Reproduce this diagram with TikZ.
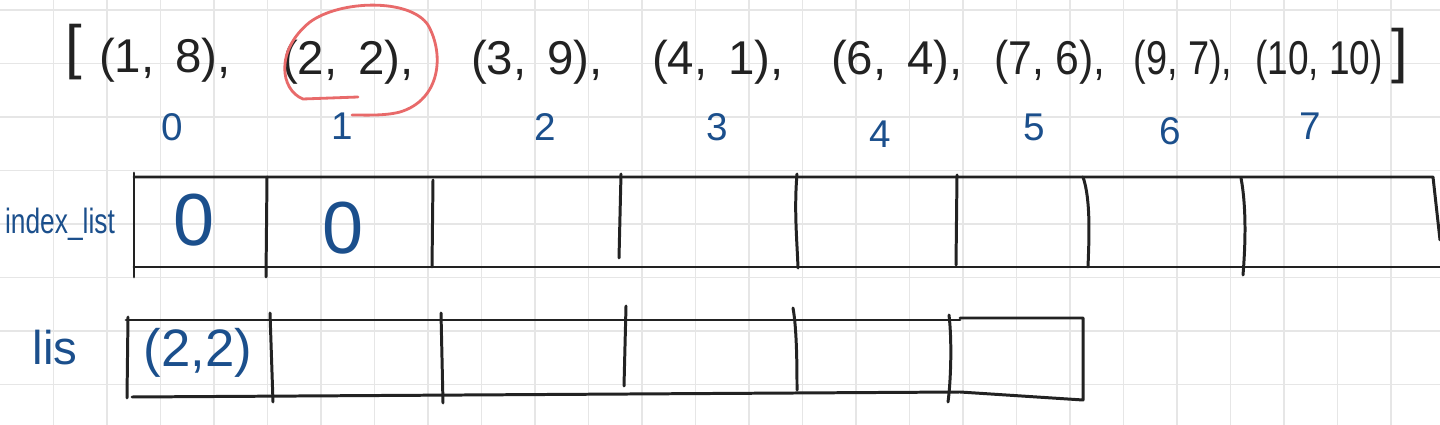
\documentclass[tikz,border=0pt]{standalone}
\usepackage{fontspec}
\setmainfont{Liberation Sans}
\usepackage{xcolor}
\usepackage{graphicx}
\usetikzlibrary{positioning,calc}

\definecolor{inkblack}{HTML}{222222}
\definecolor{inkblue}{HTML}{1B4F8C}
\definecolor{inkred}{HTML}{E86A6A}
\definecolor{paperline}{HTML}{E6E6E6}

\tikzset{
    gridline/.style={line width=1.1pt, draw=paperline},
    ink/.style={line width=1.7pt, draw=inkblack, line cap=round, line join=round},
    listtext/.style={text=inkblack, font=\fontsize{27}{30}\selectfont, inner sep=0pt},
    idxtext/.style={text=inkblue, font=\fontsize{22}{24}\selectfont, inner sep=0pt},
    celltext/.style={text=inkblue, inner sep=0pt}
}
\newcommand{\squeeze}[2]{\scalebox{#1}[1]{#2}}

\begin{document}
\begin{tikzpicture}[x=0.02cm, y=-0.02cm]
    \useasboundingbox (0,0) rectangle (1440,425);
    \fill[white] (0,0) rectangle (1440,425);

    % Grid paper
    \foreach \k in {1,...,26} \draw[gridline] (\k*53.5,0) -- (\k*53.5,425);
    \foreach \k in {0,...,7} \draw[gridline] (0,10+\k*53.5) -- (1440,10+\k*53.5);

    % The sorted list of pairs
    \node[listtext, font=\fontsize{34}{36}\selectfont] (lb) at (74,52) {[};
    \node[listtext] (p0) at (165,60) {(1,\, 8),};
    \node[listtext] (p1) at (348,62) {(2,\, 2),};
    \node[listtext] (p2) at (537,62) {(3,\, 9),};
    \node[listtext] (p3) at (718,62) {(4,\, 1),};
    \node[listtext] (p4) at (897,62) {(6,\, 4),};
    \node[listtext] (p5) at (1050,62) {\squeeze{0.9}{(7, 6),}};
    \node[listtext] (p6) at (1183,62) {\squeeze{0.8}{(9, 7),}};
    \node[listtext] (p7) at (1319,62) {\squeeze{0.78}{(10, 10)}};
    \node[listtext, font=\fontsize{34}{36}\selectfont] (rb) at (1400,56) {]};

    % Red loop round (2, 2)
    \draw[line width=1.6pt, inkred, line cap=round]
        (358,97) -- (303,99) .. controls (280,90) and (275,50) .. (310,22)
        .. controls (340,0) and (410,-2) .. (428,25)
        .. controls (445,55) and (440,100) .. (400,112)
        .. controls (385,116) and (365,115) .. (352,115);

    % Indices
    \node[idxtext] (i0) at (172,127) {0};
    \node[idxtext] (i1) at (342,126) {1};
    \node[idxtext] (i2) at (545,127) {2};
    \node[idxtext] (i3) at (717,127) {3};
    \node[idxtext] (i4) at (880,134) {4};
    \node[idxtext] (i5) at (1034,127) {5};
    \node[idxtext] (i6) at (1170,131) {6};
    \node[idxtext] (i7) at (1310,126) {7};

    % index_list row
    \node[celltext, font=\fontsize{20}{22}\selectfont] (idxlabel) at (60,224) {\squeeze{0.75}{index\_list}};
    \draw[ink] (134,177) -- (1433,177) -- (1440,240);
    \draw[ink] (134,267) -- (1440,267);
    \draw[ink] (134,173) -- (134,277);
    \draw[ink] (267,177) -- (266,277);
    \draw[ink] (433,180) -- (432,267);
    \draw[ink] (621,174) -- (619,258);
    \draw[ink] (797,174) .. controls (794,210) and (797,240) .. (798,268);
    \draw[ink] (957,175) -- (956,265);
    \draw[ink] (1083,177) .. controls (1091,200) and (1089,240) .. (1088,267);
    \draw[ink] (1241,178) .. controls (1247,210) and (1245,250) .. (1243,275);
    \node[celltext, font=\fontsize{42}{44}\selectfont] (v0) at (194,220) {0};
    \node[celltext, font=\fontsize{42}{44}\selectfont] (v1) at (343,228) {0};

    % lis row
    \node[celltext, font=\fontsize{27}{29}\selectfont] (lislabel) at (55,348) {lis};
    \draw[ink] (126,320) -- (960,320);
    \draw[ink] (132,397) -- (960,392) -- (1083,400) -- (1083,318) -- (960,318);
    \draw[ink] (128,317) -- (127,398);
    \draw[ink] (270,313) -- (273,402);
    \draw[ink] (441,313) -- (443,403);
    \draw[ink] (626,306) -- (624,386);
    \draw[ink] (793,308) .. controls (797,330) and (797,370) .. (797,390);
    \draw[ink] (949,315) .. controls (952,340) and (951,380) .. (948,402);
    \node[celltext, font=\fontsize{30}{32}\selectfont] (l0) at (198,353) {(2,2)};
\end{tikzpicture}
\end{document}
